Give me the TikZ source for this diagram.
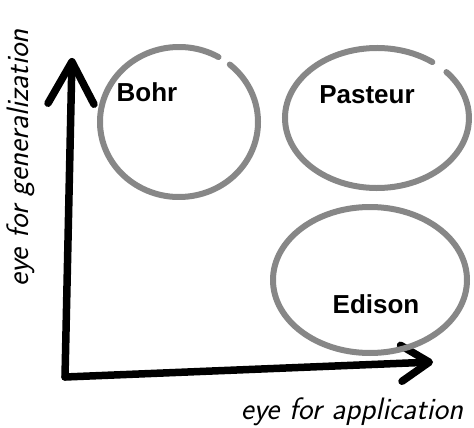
\documentclass[tikz,border=0pt]{standalone}
\usepackage{fontspec}
\usetikzlibrary{arrows.meta}
\newfontfamily\namefont{Liberation Sans}
\definecolor{ringgray}{rgb}{0.53,0.53,0.53}

\begin{document}
\begin{tikzpicture}[
    x=1pt, y=-1pt,
    ring/.style={draw=ringgray, line width=6pt, line cap=round},
    axis/.style={line width=7.5pt, line cap=round, line join=round},
    person/.style={font=\namefont\bfseries\fontsize{26}{30}\selectfont, anchor=base, inner sep=0pt},
    handtext/.style={font=\sffamily\itshape\fontsize{31}{34}\selectfont, anchor=base, inner sep=0pt}
]
\useasboundingbox (0,0) rectangle (474,428);

% axes
\coordinate (origin) at (65,377);
\coordinate (ytip) at (72,58);
\coordinate (xtip) at (433,362);
\draw[axis, -{Straight Barb[round, length=42pt, width=46pt]}] (origin) -- (ytip);
\draw[axis, -{Straight Barb[round, length=28pt, width=36pt]}] (origin) -- (xtip);

\node[handtext, rotate=90] (ylabel) at (28,158) {eye for generalization};
\node[handtext] (xlabel) at (352,419) {eye for application};

% rings
\coordinate (bohrc) at (179,122);
\coordinate (pasteurc) at (377,118);
\coordinate (edisonc) at (370,280);
\draw[ring] (bohrc) ++(-60:79 and 75) arc[start angle=-60, end angle=-410, x radius=79, y radius=75];
\draw[ring] (pasteurc) ++(-53:92 and 70) arc[start angle=-53, end angle=-401, x radius=92, y radius=70];
\draw[ring] (edisonc) ellipse[x radius=97, y radius=73];

\node[person] (bohr) at (147,102) {Bohr};
\node[person] (pasteur) at (367,103) {Pasteur};
\node[person] (edison) at (376,313) {Edison};
\end{tikzpicture}
\end{document}
